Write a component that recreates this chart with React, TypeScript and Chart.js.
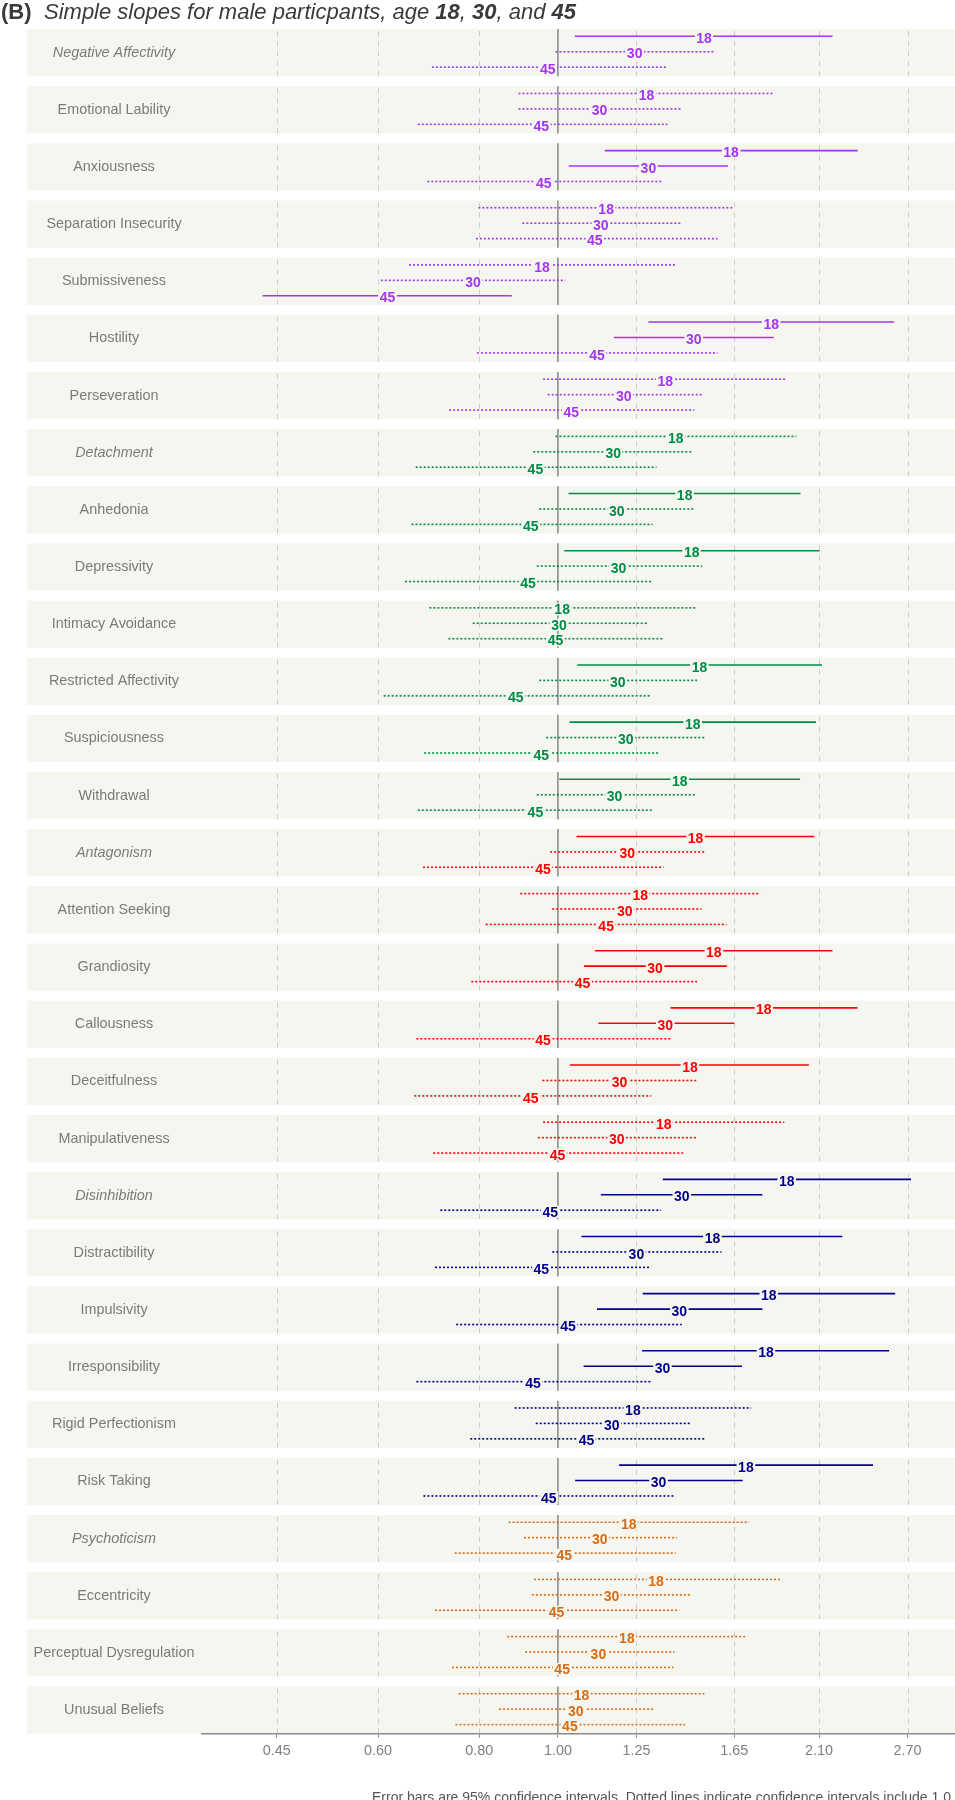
import React, { useEffect, useRef } from "react";
import { Chart, registerables } from "chart.js";

Chart.register(...registerables);

// ---- categories ----
const TRAITS = [
  "Negative Affectivity", "Emotional Lability", "Anxiousness", "Separation Insecurity",
  "Submissiveness", "Hostility", "Perseveration",
  "Detachment", "Anhedonia", "Depressivity", "Intimacy Avoidance",
  "Restricted Affectivity", "Suspiciousness", "Withdrawal",
  "Antagonism", "Attention Seeking", "Grandiosity", "Callousness", "Deceitfulness", "Manipulativeness",
  "Disinhibition", "Distractibility", "Impulsivity", "Irresponsibility", "Rigid Perfectionism", "Risk Taking",
  "Psychoticism", "Eccentricity", "Perceptual Dysregulation", "Unusual Beliefs",
];
const DOMAINS = ["Negative Affectivity", "Detachment", "Antagonism", "Disinhibition", "Psychoticism"];
const TRAIT_DOMAIN = [0, 0, 0, 0, 0, 0, 0, 1, 1, 1, 1, 1, 1, 1, 2, 2, 2, 2, 2, 2, 3, 3, 3, 3, 3, 3, 4, 4, 4, 4];
const DOMAIN_COLORS = ["#A435F0", "#008B45", "#FF0000", "#00008B", "#D96C0F"];
const AGES = ["18", "30", "45"];

// ---- simple slopes (log-odds) with 95% CI ----
const EST_18 = [0.415, 0.252, 0.492, 0.137, -0.045, 0.606, 0.305, 0.335, 0.360, 0.380, 0.012, 0.402, 0.383, 0.346, 0.391, 0.234, 0.443, 0.585, 0.375, 0.301, 0.650, 0.439, 0.599, 0.591, 0.213, 0.534, 0.201, 0.279, 0.196, 0.067];
const LO_18 = [0.048, -0.112, 0.133, -0.226, -0.423, 0.257, -0.042, -0.007, 0.030, 0.018, -0.365, 0.055, 0.033, 0.004, 0.053, -0.107, 0.105, 0.320, 0.034, -0.042, 0.298, 0.067, 0.241, 0.239, -0.123, 0.174, -0.140, -0.068, -0.144, -0.282];
const HI_18 = [0.780, 0.614, 0.852, 0.499, 0.332, 0.955, 0.651, 0.677, 0.689, 0.743, 0.390, 0.750, 0.733, 0.688, 0.728, 0.575, 0.780, 0.851, 0.713, 0.643, 1.003, 0.808, 0.958, 0.941, 0.549, 0.895, 0.543, 0.631, 0.538, 0.416];

const EST_30 = [0.218, 0.118, 0.257, 0.122, -0.241, 0.386, 0.187, 0.157, 0.167, 0.172, 0.003, 0.170, 0.193, 0.161, 0.197, 0.190, 0.276, 0.305, 0.175, 0.167, 0.352, 0.223, 0.345, 0.297, 0.153, 0.286, 0.119, 0.152, 0.115, 0.051];
const LO_30 = [-0.007, -0.112, 0.031, -0.101, -0.503, 0.159, -0.029, -0.070, -0.053, -0.060, -0.242, -0.053, -0.033, -0.060, -0.022, -0.016, 0.074, 0.115, -0.044, -0.057, 0.122, -0.016, 0.111, 0.073, -0.063, 0.049, -0.096, -0.074, -0.093, -0.167];
const HI_30 = [0.446, 0.350, 0.483, 0.353, 0.021, 0.613, 0.410, 0.384, 0.387, 0.409, 0.256, 0.395, 0.419, 0.393, 0.419, 0.408, 0.480, 0.501, 0.393, 0.397, 0.581, 0.465, 0.581, 0.523, 0.378, 0.525, 0.338, 0.380, 0.331, 0.274];

const EST_45 = [-0.029, -0.047, -0.040, 0.105, -0.484, 0.111, 0.038, -0.064, -0.077, -0.085, -0.007, -0.120, -0.047, -0.064, -0.042, 0.137, 0.070, -0.042, -0.077, -0.001, -0.022, -0.047, 0.029, -0.071, 0.081, -0.026, 0.018, -0.004, 0.012, 0.034];
const LO_45 = [-0.358, -0.398, -0.371, -0.233, -0.839, -0.230, -0.309, -0.404, -0.416, -0.434, -0.311, -0.495, -0.380, -0.398, -0.383, -0.205, -0.246, -0.402, -0.408, -0.354, -0.334, -0.349, -0.289, -0.402, -0.249, -0.382, -0.293, -0.349, -0.301, -0.291];
const HI_45 = [0.311, 0.311, 0.294, 0.453, -0.131, 0.454, 0.387, 0.280, 0.269, 0.265, 0.297, 0.263, 0.290, 0.272, 0.300, 0.479, 0.395, 0.323, 0.265, 0.356, 0.293, 0.265, 0.352, 0.268, 0.420, 0.331, 0.334, 0.345, 0.328, 0.361];

// ---- axis tick labels (odds ratios) ----
const TICK_LABELS = ["0.45", "0.60", "0.80", "1.00", "1.25", "1.65", "2.10", "2.70"];

const TITLE_PREFIX = "(B)";
const TITLE_PARTS: [string, boolean][] = [
  ["Simple slopes for male particpants, age ", false],
  ["18", true],
  [", ", false],
  ["30", true],
  [", and ", false],
  ["45", true],
];
const CAPTION = "Error bars are 95% confidence intervals. Dotted lines indicate confidence intervals include 1.0";

// ---- style ----
const FONT = "'Liberation Sans', Arial, Helvetica, sans-serif";
const BAND_COLOR = "#F6F6F1";
const ROW_OFFSETS = [0.128, 0.398, 0.668];
const BAND_H = 0.828;
const X_MIN = -1.011;
const X_MAX = 1.128;
const STRIP_LEFT = 27;
const STRIP_CENTER = 114;

export default function App() {
  const ref = useRef<HTMLCanvasElement>(null);

  useEffect(() => {
    const canvas = ref.current;
    if (!canvas) return;
    const series = [
      { est: EST_18, lo: LO_18, hi: HI_18 },
      { est: EST_30, lo: LO_30, hi: HI_30 },
      { est: EST_45, lo: LO_45, hi: HI_45 },
    ];

    const datasets: any[] = [];
    TRAITS.forEach((_t, i) => {
      series.forEach((s, a) => {
        const y = i + ROW_OFFSETS[a];
        const dotted = s.lo[i] < 0 && s.hi[i] > 0;
        datasets.push({
          data: [{ x: s.lo[i], y }, { x: s.hi[i], y }],
          showLine: true,
          borderColor: DOMAIN_COLORS[TRAIT_DOMAIN[i]],
          borderWidth: 1.6,
          borderDash: dotted ? [2, 2] : [],
          borderCapStyle: "butt",
          pointRadius: 0,
          pointHoverRadius: 0,
          fill: false,
        });
      });
    });

    const bandPlugin = {
      id: "bands",
      beforeDraw(chart: any) {
        const { ctx, scales } = chart;
        const xs = scales.x;
        const ys = scales.y;
        ctx.save();
        TRAITS.forEach((t, i) => {
          const top = ys.getPixelForValue(i);
          const bot = ys.getPixelForValue(i + BAND_H);
          ctx.fillStyle = BAND_COLOR;
          ctx.fillRect(STRIP_LEFT, top, chart.width - STRIP_LEFT, bot - top);
          ctx.strokeStyle = "#CBCBCB";
          ctx.lineWidth = 1;
          ctx.setLineDash([5, 5]);
          TICK_LABELS.forEach((l) => {
            const v = Math.log(parseFloat(l));
            if (Math.abs(v) < 1e-9) return;
            const px = Math.round(xs.getPixelForValue(v)) + 0.5;
            ctx.beginPath();
            ctx.moveTo(px, top + 2);
            ctx.lineTo(px, bot);
            ctx.stroke();
          });
          ctx.setLineDash([]);
          ctx.strokeStyle = "#7F7F7F";
          ctx.lineWidth = 1.4;
          const p1 = xs.getPixelForValue(0);
          ctx.beginPath();
          ctx.moveTo(p1, top);
          ctx.lineTo(p1, bot);
          ctx.stroke();
          const italic = DOMAINS.includes(t);
          ctx.fillStyle = "#7A7A7A";
          ctx.font = `${italic ? "italic " : ""}14.4px ${FONT}`;
          ctx.textAlign = "center";
          ctx.textBaseline = "middle";
          ctx.fillText(t, STRIP_CENTER, (top + bot) / 2);
        });
        ctx.restore();
      },
    };

    const labelPlugin = {
      id: "ageLabels",
      afterDatasetsDraw(chart: any) {
        const { ctx, scales } = chart;
        const xs = scales.x;
        const ys = scales.y;
        ctx.save();
        ctx.font = `bold 14px ${FONT}`;
        ctx.textAlign = "center";
        ctx.textBaseline = "alphabetic";
        TRAITS.forEach((_t, i) => {
          series.forEach((s, a) => {
            const px = xs.getPixelForValue(s.est[i]);
            const py = ys.getPixelForValue(i + ROW_OFFSETS[a]);
            const w = ctx.measureText(AGES[a]).width;
            ctx.fillStyle = BAND_COLOR;
            ctx.fillRect(px - w / 2 - 1.5, py - 4.5, w + 3, 12);
            ctx.fillStyle = DOMAIN_COLORS[TRAIT_DOMAIN[i]];
            ctx.fillText(AGES[a], px, py + 6.6);
          });
        });
        ctx.restore();
      },
    };

    const textPlugin = {
      id: "titles",
      afterDraw(chart: any) {
        const { ctx } = chart;
        ctx.save();
        ctx.fillStyle = "#3A3A3A";
        ctx.textAlign = "left";
        ctx.textBaseline = "alphabetic";
        ctx.font = `bold 22px ${FONT}`;
        ctx.fillText(TITLE_PREFIX, 1, 18.5);
        let x = 44;
        TITLE_PARTS.forEach(([txt, bold]) => {
          ctx.font = `italic ${bold ? "bold " : ""}22px ${FONT}`;
          ctx.fillText(txt, x, 18.5);
          x += ctx.measureText(txt).width;
        });
        ctx.fillStyle = "#555555";
        ctx.font = `14px ${FONT}`;
        ctx.textAlign = "right";
        ctx.fillText(CAPTION, 951, 1802);
        ctx.restore();
      },
    };

    const chart = new Chart(canvas, {
      type: "scatter",
      data: { datasets },
      options: {
        responsive: false,
        animation: false,
        devicePixelRatio: 1,
        events: [],
        layout: { padding: { left: 202, right: 0, top: 29, bottom: 35 } },
        plugins: {
          legend: { display: false },
          tooltip: { enabled: false },
          title: { display: false },
        },
        scales: {
          x: {
            type: "linear",
            min: X_MIN,
            max: X_MAX,
            afterBuildTicks: (scale: any) => {
              scale.ticks = TICK_LABELS.map((l) => ({ value: Math.log(parseFloat(l)) }));
            },
            ticks: {
              callback: (_v: any, idx: number) => TICK_LABELS[idx],
              color: "#7F7F7F",
              font: { family: FONT, size: 14.4 },
              padding: 5,
              maxRotation: 0,
              autoSkip: false,
            },
            grid: {
              display: true,
              drawOnChartArea: false,
              drawTicks: true,
              tickLength: 4,
              tickColor: "#8A8A8A",
              tickWidth: 1,
            },
            border: { display: true, color: "#8A8A8A", width: 1.5 },
          },
          y: {
            type: "linear",
            display: false,
            reverse: true,
            min: 0,
            max: TRAITS.length - 1 + BAND_H,
          },
        },
      } as any,
      plugins: [bandPlugin, labelPlugin, textPlugin],
    });

    return () => chart.destroy();
  }, []);

  return (
    <div style={{ position: "absolute", left: 0, top: 0, width: 955, height: 1800, background: "#ffffff", overflow: "hidden" }}>
      <canvas ref={ref} width={955} height={1800} style={{ display: "block" }} />
    </div>
  );
}
